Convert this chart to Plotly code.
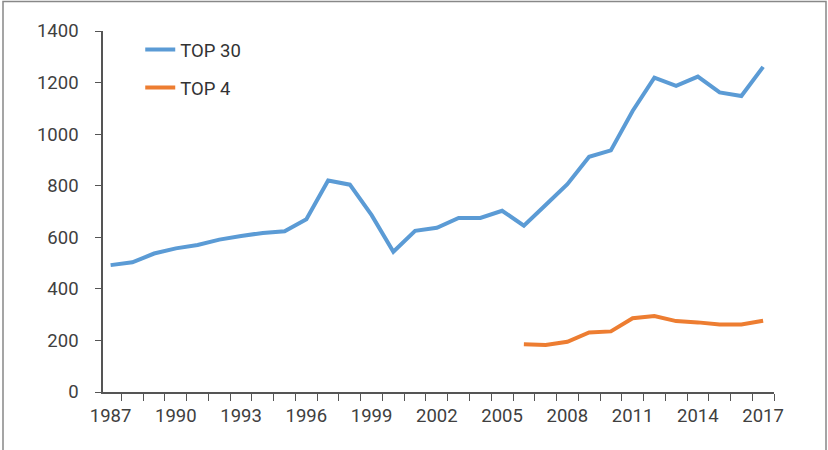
import plotly.graph_objects as go

years = list(range(1987, 2018))
top30 = [492, 503, 537, 557, 570, 591, 605, 617, 623, 670, 820, 804, 686, 544,
         625, 637, 675, 675, 703, 645, 725, 806, 912, 937, 1090, 1219, 1187, 1223,
         1162, 1148, 1261]
years4 = list(range(2006, 2018))
top4 = [185, 182, 195, 231, 235, 286, 295, 275, 270, 262, 262, 276]
xtick_vals = list(range(1987, 2018, 3))
ytick_vals = list(range(0, 1401, 200))

fig = go.Figure()
fig.add_trace(go.Scatter(x=years, y=top30, mode="lines", name="TOP 30",
                         line=dict(color="#5B9BD5", width=4), legendgroup="a"))
fig.add_trace(go.Scatter(x=years4, y=top4, mode="lines", name="TOP 4",
                         line=dict(color="#ED7D31", width=4), legendgroup="b"))

tickfont = dict(family="Roboto, Liberation Sans, sans-serif", size=18.5, color="#404040")

fig.update_layout(
    width=828, height=450,
    margin=dict(l=103, r=54, t=31, b=58),
    paper_bgcolor="white", plot_bgcolor="white",
    showlegend=True,
    legend=dict(x=0.0555, y=1.0, xanchor="left", yanchor="top",
                traceorder="grouped", tracegroupgap=11,
                font=dict(family="Roboto, Arial, sans-serif", size=18.5, color="#333333"),
                bgcolor="rgba(0,0,0,0)"),
    xaxis=dict(range=[1986.65, 2017.5], tickmode="array", tickvals=xtick_vals,
               ticks="", showgrid=False, zeroline=False,
               showline=True, linecolor="#555555", linewidth=1.5,
               tickfont=tickfont, ticklabelstandoff=6,
               minor=dict(tickmode="linear", tick0=1986.5, dtick=1, ticks="outside",
                          ticklen=7, tickcolor="#555555", tickwidth=1.2, showgrid=False)),
    yaxis=dict(range=[0, 1400], tickmode="array", tickvals=ytick_vals,
               ticks="outside", ticklen=6, tickcolor="#555555", tickwidth=1.2,
               showgrid=False, zeroline=False,
               showline=True, linecolor="#555555", linewidth=1.5,
               tickfont=tickfont, ticklabelstandoff=13),
    shapes=[
        dict(type="rect", xref="paper", yref="paper",
             x0=(3 - 103) / 671, x1=(826 - 103) / 671,
             y0=(392 - 470) / 361, y1=(392 - 1.5) / 361,
             line=dict(color="#888888", width=1.5), fillcolor="rgba(0,0,0,0)",
             layer="below"),
    ],
)

fig.write_html("out.html", config={"displayModeBar": False},
               post_script="document.body.style.margin='0';document.body.style.overflow='hidden';")
